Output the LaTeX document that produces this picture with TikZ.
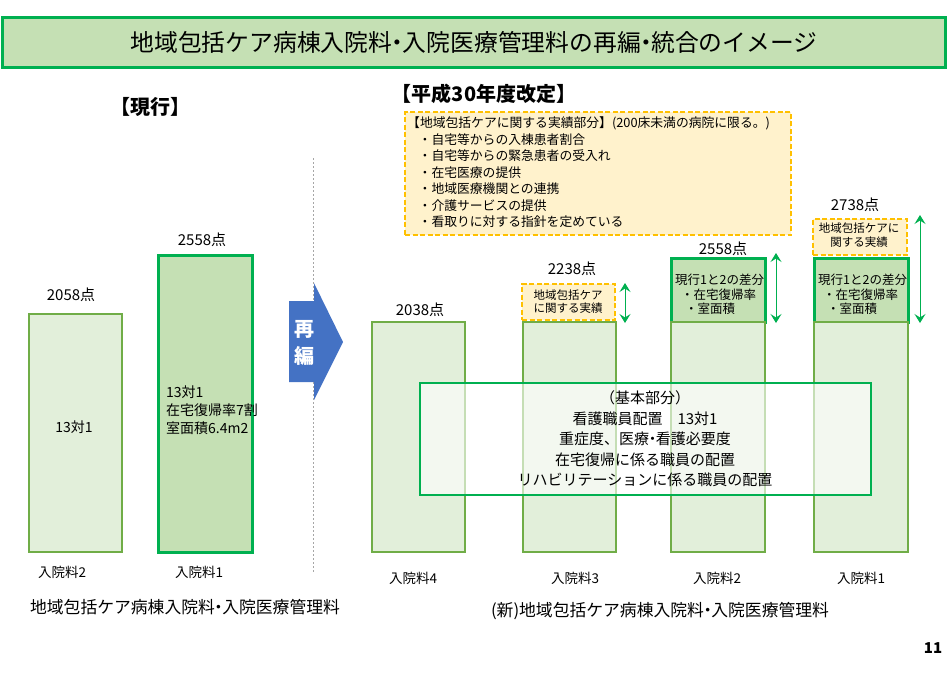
\documentclass[tikz,border=0pt]{standalone}
\usepackage{fontspec}
\setmainfont{Noto Sans CJK JP}
\usetikzlibrary{arrows.meta}
\definecolor{lg}{HTML}{E2EFDA}
\definecolor{lgb}{HTML}{70AD47}
\definecolor{mg}{HTML}{C5E0B4}
\definecolor{mgb}{HTML}{00B050}
\definecolor{orf}{HTML}{FFF2CC}
\definecolor{orb}{HTML}{FFC000}
\definecolor{blu}{HTML}{4472C4}
\newcommand\myfs[2]{\fontsize{#1}{#2}\selectfont}
\newcommand\nkg{\kern-.28em・\kern-.28em}
\tikzset{
  lightbar/.style={draw=lgb, fill=lg, line width=2pt, anchor=north west, inner sep=0pt},
  midbar/.style={draw=mgb, fill=mg, line width=2.5pt, anchor=north west, inner sep=0pt},
  orangebox/.style={draw=orb, fill=orf, line width=2pt, dash pattern=on 5pt off 2.5pt, anchor=north west, inner sep=0pt},
  txt/.style={inner sep=0pt, text=black},
  garrow/.style={draw=mgb, line width=1pt, {Stealth[length=9pt,width=11pt,inset=3.5pt]}-{Stealth[length=9pt,width=11pt,inset=3.5pt]}},
}
\begin{document}
\begin{tikzpicture}[x=1pt,y=-1pt]
\useasboundingbox (0,0) rectangle (951,673);
% title
\node[draw=mgb, fill=mg, line width=3pt, minimum width=943pt, minimum height=50pt, inner sep=0pt] (title) at (474,42)
  {\myfs{23.8}{27}地域包括ケア病棟入院料\nkg 入院医療管理料の再編\nkg 統合のイメージ};
% headings
\node[txt, font=\bfseries\myfs{20}{24}] (cur) at (150,107) {【現行】};
\node[txt, font=\bfseries\myfs{20}{24}] (rev) at (484,94) {【平成30年度改定】};
% divider and arrow
\coordinate (dtop) at (313,158);
\coordinate (dbot) at (313,573);
\draw[gray!70, line width=0.6pt, dash pattern=on 2pt off 2pt] (dtop) -- (dbot);
\fill[blu] (289,301) -- (314,301) -- (314,283) -- (343,342) -- (314,400) -- (314,382) -- (289,382) -- cycle;
\node[txt, text=white, font=\bfseries\myfs{20}{27}, align=center] (saihen) at (304,343) {再\\編};
% current bars
\node[lightbar, minimum width=93pt, minimum height=238pt] (c2) at (28,313) {};
\node[midbar, minimum width=94pt, minimum height=297pt] (c1) at (157,254) {};
\node[txt, font=\myfs{15}{18}] (c2p) at (71,295) {2058点};
\node[txt, font=\myfs{15}{18}] (c1p) at (202,240) {2558点};
\node[txt, font=\myfs{14}{18}] (c2t) at (74,427) {13対1};
\node[txt, font=\myfs{14}{18}, align=left, anchor=west] (c1t) at (166,410) {13対1\\在宅復帰率7割\\室面積6.4m2};
\node[txt, font=\myfs{13.5}{16}] (c2l) at (62,572) {入院料2};
\node[txt, font=\myfs{13.5}{16}] (c1l) at (199,572) {入院料1};
\node[txt, font=\myfs{16.8}{19}] (cname) at (185,607) {地域包括ケア病棟入院料\nkg 入院医療管理料};
% orange list box
\node[orangebox, minimum width=386pt, minimum height=123pt] (olist) at (404,111) {};
\node[txt, font=\myfs{12.8}{16.5}, align=left, anchor=west] (olistt) at (407,172.5)
  {【地域包括ケアに関する実績部分】(200床未満の病院に限る。)\\
   \hspace*{11.5pt}・自宅等からの入棟患者割合\\
   \hspace*{11.5pt}・自宅等からの緊急患者の受入れ\\
   \hspace*{11.5pt}・在宅医療の提供\\
   \hspace*{11.5pt}・地域医療機関との連携\\
   \hspace*{11.5pt}・介護サービスの提供\\
   \hspace*{11.5pt}・看取りに対する指針を定めている};
% new bars
\node[lightbar, minimum width=93pt, minimum height=230pt] (n4) at (371,321) {};
\node[lightbar, minimum width=93pt, minimum height=230pt] (n3) at (522,321) {};
\node[midbar, minimum width=94pt, minimum height=64pt] (n2u) at (670,257) {};
\node[lightbar, minimum width=94pt, minimum height=230pt] (n2) at (670,321) {};
\node[midbar, minimum width=94pt, minimum height=64pt] (n1u) at (813,257) {};
\node[lightbar, minimum width=94pt, minimum height=230pt] (n1) at (813,321) {};
\node[orangebox, minimum width=93pt, minimum height=36pt] (o3) at (521,283) {};
\node[orangebox, minimum width=94pt, minimum height=36pt] (o1) at (812,218) {};
\node[txt, font=\myfs{11.5}{13.5}, align=center] (o3t) at (568,301.5) {地域包括ケア\\に関する実績};
\node[txt, font=\myfs{11.5}{14}, align=center] (o1t) at (859,235) {地域包括ケアに\\関する実績};
\node[txt, font=\myfs{12.5}{14.5}, align=left, anchor=west] (n2ut) at (675,294.5) {現行1と2の差分\\\hspace*{6pt}・在宅復帰率\\\hspace*{10pt}・室面積};
\node[txt, font=\myfs{12.5}{14.5}, align=left, anchor=west] (n1ut) at (818,294.5) {現行1と2の差分\\\hspace*{5pt}・在宅復帰率\\\hspace*{9pt}・室面積};
% points
\node[txt, font=\myfs{15}{18}] (n4p) at (420,310) {2038点};
\node[txt, font=\myfs{15}{18}] (n3p) at (572,269) {2238点};
\node[txt, font=\myfs{15}{18}] (n2p) at (723,249) {2558点};
\node[txt, font=\myfs{15}{18}] (n1p) at (855,205) {2738点};
% green double arrows
\coordinate (a3t) at (625,283); \coordinate (a3b) at (625,323);
\coordinate (a2t) at (776,253); \coordinate (a2b) at (776,323);
\coordinate (a1t) at (920,215); \coordinate (a1b) at (920,323);
\draw[garrow] (a3t) -- (a3b);
\draw[garrow] (a2t) -- (a2b);
\draw[garrow] (a1t) -- (a1b);
% basic part box
\node[draw=mgb, fill=white, fill opacity=0.6, text opacity=1, line width=1.5pt, minimum width=451pt, minimum height=112pt, inner sep=0pt] (basic) at (645.5,439) {};
\node[txt, font=\myfs{15}{20.5}, align=center] (basict) at (645,439)
  {（基本部分）\\看護職員配置　13対1\\重症度、医療\nkg 看護必要度\\在宅復帰に係る職員の配置\\リハビリテーションに係る職員の配置};
% bottom labels
\node[txt, font=\myfs{13.5}{16}] (n4l) at (413,578) {入院料4};
\node[txt, font=\myfs{13.5}{16}] (n3l) at (575,578) {入院料3};
\node[txt, font=\myfs{13.5}{16}] (n2l) at (717,578) {入院料2};
\node[txt, font=\myfs{13.5}{16}] (n1l) at (861,578) {入院料1};
\node[txt, font=\myfs{16.8}{19}] (nname) at (660,611) {(新)地域包括ケア病棟入院料\nkg 入院医療管理料};
\node[txt, font=\bfseries\myfs{15}{18}] (pg) at (933,648) {11};
\end{tikzpicture}
\end{document}
